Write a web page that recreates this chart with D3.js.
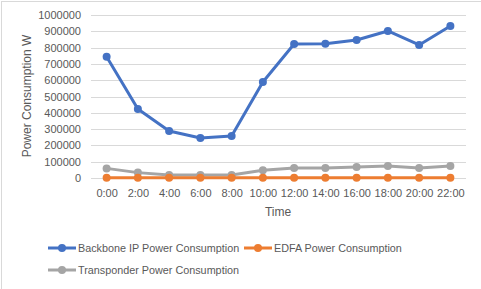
<!DOCTYPE html>
<html>
<head>
  <script src="https://d3js.org/d3.v7.min.js"></script>
  <style>
    body { margin: 0; background: #fff; }
    text { font-family: "Liberation Sans", Arial, sans-serif; fill: #595959; }
  </style>
</head>
<body>
  <div id="chart"></div>
  <script type="text/javascript">
    var times = ["0:00", "2:00", "4:00", "6:00", "8:00", "10:00", "12:00", "14:00", "16:00", "18:00", "20:00", "22:00"];
    var backboneIP = [744000, 423000, 288000, 245000, 258000, 589000, 822000, 824000, 847000, 902000, 816000, 932000];
    var edfa = [1500, 1500, 1500, 1500, 1500, 1500, 1500, 1500, 1500, 1500, 1500, 1500];
    var transponder = [59000, 33000, 18000, 18000, 18000, 47000, 61000, 62000, 67000, 73000, 62000, 73000];
    var yTicks = [0, 100000, 200000, 300000, 400000, 500000, 600000, 700000, 800000, 900000, 1000000];

    var series = [
      { name: "Backbone IP Power Consumption", values: backboneIP, color: "#4472C4" },
      { name: "EDFA Power Consumption", values: edfa, color: "#ED7D31" },
      { name: "Transponder Power Consumption", values: transponder, color: "#A5A5A5" }
    ];

    var W = 481, H = 289;
    var plot = { left: 91, right: 466, top: 15, bottom: 178 };

    var svg = d3.select("#chart").append("svg")
      .attr("width", W)
      .attr("height", H);

    // chart border
    svg.append("rect")
      .attr("x", 1.5).attr("y", 1.5)
      .attr("width", W).attr("height", H)
      .attr("fill", "none")
      .attr("stroke", "#d9d9d9");

    var x = d3.scalePoint().domain(times).range([plot.left, plot.right]).padding(0.5);
    var y = d3.scaleLinear().domain([0, 1000000]).range([plot.bottom, plot.top]);

    // gridlines
    svg.append("g").selectAll("line").data(yTicks)
      .enter().append("line")
      .attr("x1", plot.left).attr("x2", plot.right)
      .attr("y1", function (d) { return Math.round(y(d)) + 0.5; })
      .attr("y2", function (d) { return Math.round(y(d)) + 0.5; })
      .attr("stroke", "#d9d9d9")
      .attr("stroke-width", 1);

    // y axis labels
    var yAxis = svg.append("g")
      .attr("transform", "translate(" + (plot.left - 10) + ",0)")
      .call(d3.axisLeft(y).tickValues(yTicks).tickSize(0).tickPadding(0).tickFormat(d3.format("d")));
    yAxis.select(".domain").remove();
    yAxis.selectAll("text").style("font-size", "11px").attr("fill", "#595959")
      .style("font-family", "Liberation Sans, Arial, sans-serif");

    // x axis labels
    var xAxis = svg.append("g")
      .attr("transform", "translate(0," + (plot.bottom + 11) + ")")
      .call(d3.axisBottom(x).tickSize(0).tickPadding(0));
    xAxis.select(".domain").remove();
    xAxis.selectAll("text").style("font-size", "11px").attr("fill", "#595959")
      .style("font-family", "Liberation Sans, Arial, sans-serif");

    // axis titles
    svg.append("text")
      .attr("transform", "translate(31,96) rotate(-90)")
      .attr("text-anchor", "middle")
      .style("font-size", "12px")
      .text("Power Consumption W");
    svg.append("text")
      .attr("x", 278).attr("y", 216)
      .attr("text-anchor", "middle")
      .style("font-size", "12px")
      .text("Time");

    var line = d3.line()
      .x(function (d, i) { return x(times[i]); })
      .y(function (d) { return y(d); });

    // draw back to front: transponder, edfa, backbone
    [series[2], series[1], series[0]].forEach(function (s) {
      var g = svg.append("g");
      g.append("path")
        .datum(s.values)
        .attr("d", line)
        .attr("fill", "none")
        .attr("stroke", s.color)
        .attr("stroke-width", 3)
        .attr("stroke-linejoin", "round");
      g.selectAll("circle").data(s.values)
        .enter().append("circle")
        .attr("cx", function (d, i) { return x(times[i]); })
        .attr("cy", function (d) { return y(d); })
        .attr("r", 4)
        .attr("fill", s.color);
    });

    // legend
    var legendPos = [
      { x: 48, y: 248 },
      { x: 244, y: 248 },
      { x: 48, y: 270 }
    ];
    series.forEach(function (s, i) {
      var p = legendPos[i];
      var g = svg.append("g").attr("transform", "translate(" + p.x + "," + p.y + ")");
      g.append("line")
        .attr("x1", 0).attr("x2", 28)
        .attr("y1", 0).attr("y2", 0)
        .attr("stroke", s.color)
        .attr("stroke-width", 3);
      g.append("circle")
        .attr("cx", 14).attr("cy", 0).attr("r", 4)
        .attr("fill", s.color);
      g.append("text")
        .attr("x", 30).attr("y", 4)
        .style("font-size", "10.8px")
        .text(s.name);
    });
  </script>
</body>
</html>
